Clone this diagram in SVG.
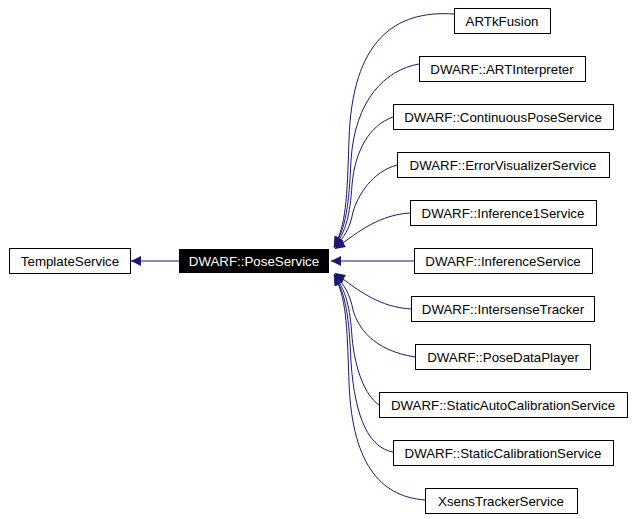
<svg xmlns="http://www.w3.org/2000/svg" width="633" height="519" viewBox="0 0 633 519">
<style>
.n rect{fill:#fff;stroke:#000;stroke-width:1}
text{font-family:"Liberation Sans",Arial,sans-serif;font-size:13.3px;text-anchor:middle}
.e path{fill:none;stroke:#191970;stroke-width:1}
</style>
<defs><marker id="a" viewBox="0 0 10 10" refX="10" refY="5" markerWidth="14" markerHeight="10" markerUnits="userSpaceOnUse" orient="auto"><path d="M0,0L10,5L0,10z" fill="#191970"/></marker></defs>
<rect width="633" height="519" fill="#fff"/>
<g class="e">
<path d="M179,261H131" marker-end="url(#a)"/>
<path d="M414,261H331" marker-end="url(#a)"/>
<path d="M454,14C395,10 352,40 349,140C347,200 346,225 334,247" marker-end="url(#a)"/>
<path d="M419,64C385,70 355,100 351,160C349,205 346,228 334,247" marker-end="url(#a)"/>
<path d="M393,117C370,125 355,150 352,185C350,215 346,232 334,247" marker-end="url(#a)"/>
<path d="M397,165C372,172 358,195 353,212C350,228 344,238 334,248" marker-end="url(#a)"/>
<path d="M410,213C380,215 360,230 335,249" marker-end="url(#a)"/>
<path d="M411,309C380,307 360,292 335,273" marker-end="url(#a)"/>
<path d="M415,357C372,350 358,327 353,310C350,294 344,284 334,274" marker-end="url(#a)"/>
<path d="M379,405C365,395 355,370 352,337C350,307 346,290 334,275" marker-end="url(#a)"/>
<path d="M393,452C370,448 355,420 351,362C349,317 346,294 334,275" marker-end="url(#a)"/>
<path d="M425,500C385,497 352,470 349,382C347,322 346,297 334,275" marker-end="url(#a)"/>
</g>
<g id="TemplateService" class="n"><rect x="9.5" y="248.5" width="121" height="25"/><text x="70" y="265.5">TemplateService</text></g>
<g id="PoseService"><rect x="179" y="249" width="150" height="24" fill="#000"/><text x="254" y="265.5" fill="#fff">DWARF::PoseService</text></g>
<g id="ARTkFusion" class="n"><rect x="454.5" y="8.5" width="96" height="25"/><text x="502" y="25.5">ARTkFusion</text></g>
<g id="ARTInterpreter" class="n"><rect x="419.5" y="56.5" width="166" height="25"/><text x="502" y="73.5">DWARF::ARTInterpreter</text></g>
<g id="ContinuousPoseService" class="n"><rect x="393.5" y="104.5" width="220" height="25"/><text x="503" y="121.5">DWARF::ContinuousPoseService</text></g>
<g id="ErrorVisualizerService" class="n"><rect x="397.5" y="152.5" width="212" height="25"/><text x="503" y="169.5">DWARF::ErrorVisualizerService</text></g>
<g id="Inference1Service" class="n"><rect x="410.5" y="200.5" width="186" height="25"/><text x="503" y="217.5">DWARF::Inference1Service</text></g>
<g id="InferenceService" class="n"><rect x="414.5" y="248.5" width="178" height="25"/><text x="503" y="265.5">DWARF::InferenceService</text></g>
<g id="IntersenseTracker" class="n"><rect x="411.5" y="296.5" width="183" height="25"/><text x="503" y="313.5">DWARF::IntersenseTracker</text></g>
<g id="PoseDataPlayer" class="n"><rect x="415.5" y="344.5" width="175" height="25"/><text x="503" y="361.5">DWARF::PoseDataPlayer</text></g>
<g id="StaticAutoCalibrationService" class="n"><rect x="379.5" y="392.5" width="248" height="25"/><text x="503" y="409.5">DWARF::StaticAutoCalibrationService</text></g>
<g id="StaticCalibrationService" class="n"><rect x="393.5" y="440.5" width="220" height="25"/><text x="503" y="457.5">DWARF::StaticCalibrationService</text></g>
<g id="XsensTrackerService" class="n"><rect x="425.5" y="488.5" width="152" height="25"/><text x="501" y="505.5">XsensTrackerService</text></g>
</svg>
